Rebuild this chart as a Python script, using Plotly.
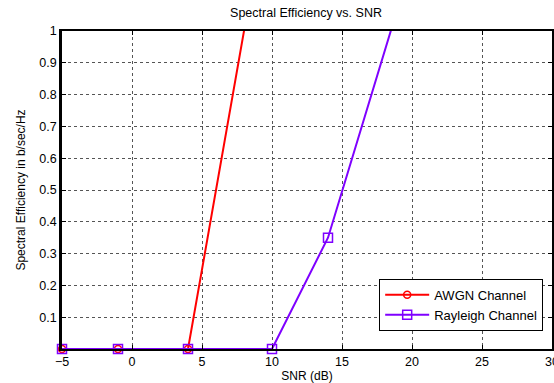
import plotly.graph_objects as go

snr_awgn = [-5, -1, 4, 10]
se_awgn = [0, 0, 0, 1.5]
snr_ray = [-5, -1, 4, 10, 14, 20]
se_ray = [0, 0, 0, 0, 0.35, 1.22]

x_ticks = [-5, 0, 5, 10, 15, 20, 25, 30]
y_ticks = [0.1, 0.2, 0.3, 0.4, 0.5, 0.6, 0.7, 0.8, 0.9, 1]
y_ticktext = ["0.1", "0.2", "0.3", "0.4", "0.5", "0.6", "0.7", "0.8", "0.9", "1"]

fig = go.Figure()
fig.add_trace(go.Scatter(
    x=snr_awgn, y=se_awgn, mode="lines+markers", name="AWGN Channel",
    line=dict(color="#ff0000", width=2),
    marker=dict(symbol="circle-open", size=7, color="#ff0000", line=dict(width=1.5)),
    cliponaxis=False,
))
fig.add_trace(go.Scatter(
    x=snr_ray, y=se_ray, mode="lines+markers", name="Rayleigh Channel",
    line=dict(color="#7f00ff", width=2),
    marker=dict(symbol="square-open", size=9, color="#7f00ff", line=dict(width=1.5)),
    cliponaxis=False,
))

font = "Liberation Sans, Arial, sans-serif"
fig.update_layout(
    width=554, height=383,
    margin=dict(l=62, r=2, t=31, b=34),
    paper_bgcolor="white", plot_bgcolor="white",
    font=dict(family=font, size=12, color="black"),
    title=dict(text="Spectral Efficiency vs. SNR", x=306 / 554, xanchor="center",
               y=1 - 13 / 383, yanchor="middle", font=dict(size=12.5)),
    legend=dict(x=0.982, xanchor="right", y=0.057, yanchor="bottom",
                bgcolor="white", bordercolor="black", borderwidth=1,
                font=dict(size=13), tracegroupgap=0, itemwidth=44),
    showlegend=True,
)
fig.update_xaxes(
    range=[-5, 30], tickvals=x_ticks, ticks="inside", ticklen=4, tickcolor="black",
    showline=True, linecolor="black", linewidth=1.5, mirror="ticks",
    showgrid=True, gridcolor="#555555", griddash="dot", gridwidth=1,
    zeroline=False, title=dict(text="SNR (dB)", standoff=4, font=dict(size=12)),
    tickfont=dict(size=12.5), ticklabeloverflow="allow", automargin=False,
)
fig.update_yaxes(
    range=[0, 1], tickvals=y_ticks, ticktext=y_ticktext, ticks="inside", ticklen=4, tickcolor="black",
    showline=True, linecolor="black", linewidth=2.5, mirror="ticks",
    showgrid=True, gridcolor="#555555", griddash="dot", gridwidth=1,
    zeroline=False, title=dict(text="Spectral Efficiency in b/sec/Hz", standoff=12, font=dict(size=12)),
    tickfont=dict(size=12.5), automargin=False,
)

fig.write_html("out.html")
